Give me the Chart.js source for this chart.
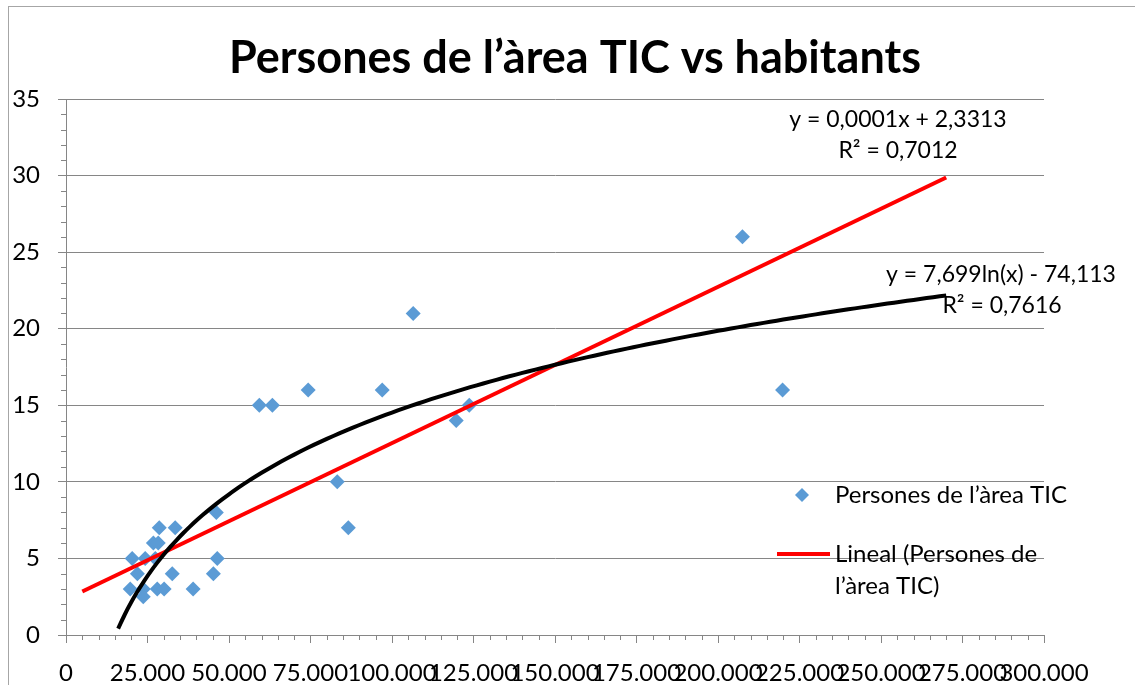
<!DOCTYPE html>
<html>
<head>
<meta charset="utf-8">
<title>Persones de l’àrea TIC vs habitants</title>
<script src="https://cdn.jsdelivr.net/npm/chart.js@4.4.1/dist/chart.umd.min.js"></script>
<style>
  html, body { margin: 0; padding: 0; background: #fff; }
  #wrap { width: 1135px; height: 685px; position: relative; }
</style>
</head>
<body>
<div id="wrap"><canvas id="chart"></canvas></div>
<script>
// values
const habitants = [19700, 20300, 21900, 23700, 23700, 24300, 26800, 27400, 28000, 28300,
  28600, 30100, 32600, 33500, 39000, 45200, 46100, 46400, 59300, 63300,
  74300, 83200, 86600, 97000, 106500, 119700, 123700, 207500, 219800]
const persones = [3, 5, 4, 3, 2.5, 5, 6, 5, 3, 6,
  7, 3, 4, 7, 3, 4, 8, 5, 15, 15,
  16, 10, 7, 16, 21, 14, 15, 26, 16]

// trendlines (coefficients from the labels; linear slope label is rounded to 0,0001)
const LINEAR_SLOPE = 0.000102
const LINEAR_INTERCEPT = 2.3313
const LOG_A = 7.699
const LOG_B = -74.113
const linearRange = [5000, 270000]
const logRange = [16000, 270000]

const titleText = 'Persones de l’àrea TIC vs habitants'
const seriesLabel = 'Persones de l’àrea TIC'
const linearLabel = ['Lineal (Persones de', 'l’àrea TIC)']
const linearEq = ['y = 0,0001x + 2,3313', 'R² = 0,7012']
const logEq = ['y = 7,699ln(x) - 74,113', 'R² = 0,7616']

const COLOR_POINT = '#5B9BD5'
const COLOR_LINEAR = '#FF0000'
const COLOR_LOG = '#000000'
const COLOR_AXIS = '#868686'

const points = habitants.map((x, i) => ({ x: x, y: persones[i] }))
const linearLine = linearRange.map((x) => ({ x: x, y: LINEAR_SLOPE * x + LINEAR_INTERCEPT }))
const logLine = []
for (let x = logRange[0]; x <= logRange[1]; x += 2000) {
  logLine.push({ x: x, y: LOG_A * Math.log(x) + LOG_B })
}

const fmt = (v) => (v === 0 ? '0' : String(v).replace(/\B(?=(\d{3})+(?!\d))/g, '.'))

Chart.defaults.font.family = 'Lato'
Chart.defaults.color = '#000'

// outer frame + minor ticks
const frame = {
  id: 'frame',
  beforeDraw(chart) {
    const { ctx } = chart
    ctx.save()
    ctx.fillStyle = '#fff'
    ctx.fillRect(0, 0, chart.width, chart.height)
    ctx.strokeStyle = '#a6a6a6'
    ctx.lineWidth = 1
    ctx.strokeRect(8.5, 6.5, chart.width, chart.height)
    ctx.restore()
  },
  afterDraw(chart) {
    const { ctx, chartArea, scales } = chart
    ctx.save()
    ctx.strokeStyle = COLOR_AXIS
    ctx.lineWidth = 1
    ctx.beginPath()
    for (let v = 0; v <= 35; v++) {
      if (v % 5 === 0) continue
      const y = Math.round(scales.y.getPixelForValue(v)) + 0.5
      ctx.moveTo(chartArea.left - 5, y)
      ctx.lineTo(chartArea.left, y)
    }
    for (let v = 0; v <= 300000; v += 5000) {
      if (v % 25000 === 0) continue
      const x = Math.round(scales.x.getPixelForValue(v)) + 0.5
      ctx.moveTo(x, chartArea.bottom)
      ctx.lineTo(x, chartArea.bottom + 5)
    }
    ctx.stroke()
    ctx.restore()
  }
}

// title, legend + trendline labels
const notes = {
  id: 'notes',
  afterDraw(chart) {
    const { ctx } = chart
    ctx.save()
    ctx.fillStyle = '#000'
    ctx.textBaseline = 'middle'
    ctx.textAlign = 'center'
    ctx.font = 'bold 45px Lato'
    ctx.fillText(titleText, 575, 58)

    ctx.font = '23px Lato'
    ctx.fillText(linearEq[0], 898, 120)
    ctx.fillText(linearEq[1], 898, 151)
    ctx.fillText(logEq[0], 1001, 275)
    ctx.fillText(logEq[1], 1002, 306)

    ctx.font = '24px Lato'
    ctx.textAlign = 'left'
    ctx.fillStyle = COLOR_POINT
    ctx.beginPath()
    ctx.moveTo(795, 495)
    ctx.lineTo(802, 488)
    ctx.lineTo(809, 495)
    ctx.lineTo(802, 502)
    ctx.closePath()
    ctx.fill()
    ctx.fillStyle = '#000'
    ctx.fillText(seriesLabel, 835, 495)

    ctx.strokeStyle = COLOR_LINEAR
    ctx.lineWidth = 4
    ctx.beginPath()
    ctx.moveTo(777, 554)
    ctx.lineTo(830, 554)
    ctx.stroke()
    ctx.fillText(linearLabel[0], 835, 554)
    ctx.fillText(linearLabel[1], 835, 586)
    ctx.restore()
  }
}

new Chart(document.getElementById('chart'), {
  type: 'scatter',
  plugins: [frame, notes],
  data: {
    datasets: [
      {
        label: seriesLabel,
        data: points,
        pointStyle: 'rectRot',
        pointRadius: 7.5,
        pointBorderWidth: 0,
        pointBackgroundColor: COLOR_POINT,
        borderColor: COLOR_POINT,
        order: 3
      },
      {
        label: linearLabel.join(' '),
        data: linearLine,
        showLine: true,
        borderColor: COLOR_LINEAR,
        borderWidth: 4,
        pointRadius: 0,
        order: 2
      },
      {
        label: 'Logarítmica',
        data: logLine,
        showLine: true,
        borderColor: COLOR_LOG,
        borderWidth: 4,
        pointRadius: 0,
        cubicInterpolationMode: 'monotone',
        order: 1
      }
    ]
  },
  options: {
    responsive: true,
    maintainAspectRatio: false,
    animation: false,
    layout: {
      padding: { left: 8, right: 91, top: 99, bottom: 0 }
    },
    plugins: {
      legend: { display: false },
      tooltip: { enabled: false },
      title: { display: false }
    },
    scales: {
      x: {
        type: 'linear',
        min: 0,
        max: 300000,
        afterFit(scale) {
          scale.height = 50
          scale.paddingLeft = 0
          scale.paddingRight = 0
        },
        border: { display: true, color: COLOR_AXIS, width: 1 },
        grid: { drawOnChartArea: false, drawTicks: true, tickLength: 8, color: COLOR_AXIS },
        ticks: {
          stepSize: 25000,
          autoSkip: false,
          maxRotation: 0,
          minRotation: 0,
          padding: 16,
          font: { size: 24 },
          callback: (v) => fmt(v)
        }
      },
      y: {
        min: 0,
        max: 35,
        afterFit(scale) {
          scale.width = 58
          scale.paddingTop = 0
          scale.paddingBottom = 0
        },
        border: { display: true, color: COLOR_AXIS, width: 1 },
        grid: { color: COLOR_AXIS, tickLength: 8 },
        ticks: {
          stepSize: 5,
          padding: 18,
          font: { size: 24 }
        }
      }
    }
  }
})
</script>
</body>
</html>
